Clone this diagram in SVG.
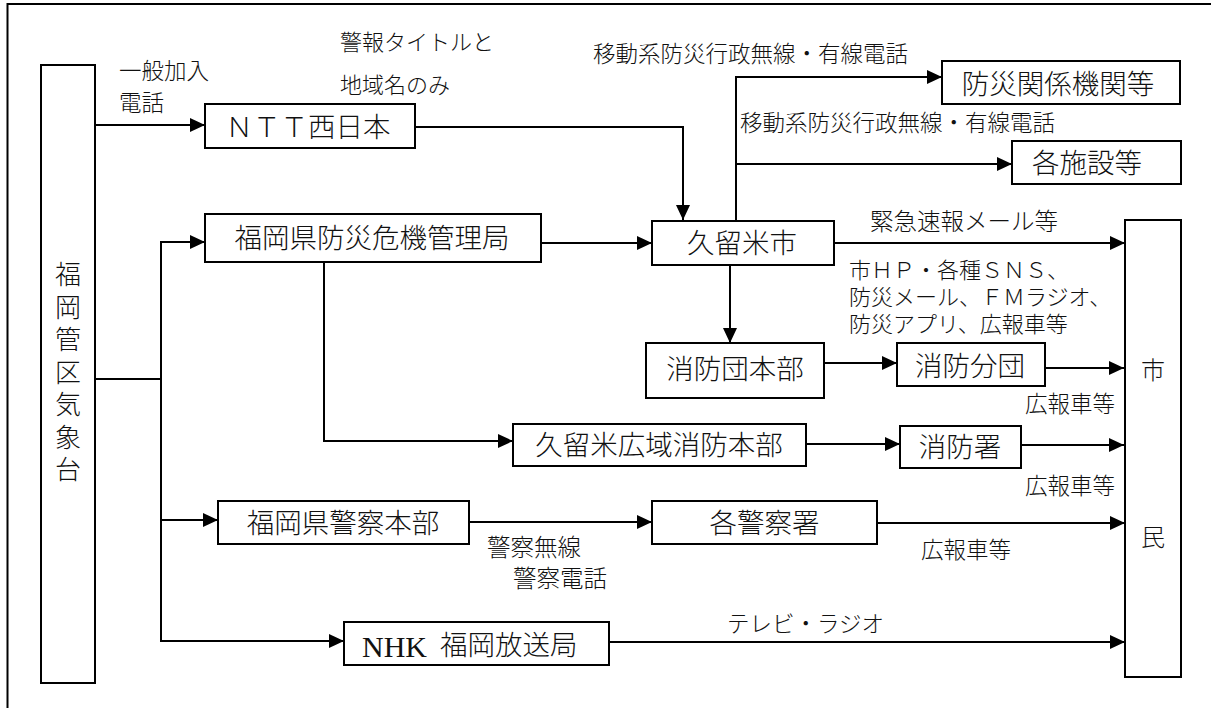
<svg xmlns="http://www.w3.org/2000/svg" width="1211" height="708" viewBox="0 0 1211 708">
<defs>
<marker id="arr" markerUnits="userSpaceOnUse" markerWidth="15" markerHeight="14" refX="15" refY="7" orient="auto">
<path d="M0,0 L15,7 L0,14 z" fill="#000"/>
</marker>
<style>
.box{fill:#fff;stroke:#000;stroke-width:2}
.c{fill:none;stroke:#000;stroke-width:2}
.a{fill:none;stroke:#000;stroke-width:2;marker-end:url(#arr)}
text{font-family:"Liberation Sans","Noto Sans CJK JP",sans-serif;font-weight:300;fill:#111;dominant-baseline:central}
.n{font-size:27.5px;text-anchor:middle}
.l{font-size:22.5px}
</style>
</defs>
<rect width="1211" height="708" fill="#fff"/>
<path class="c" d="M7.5,708 V4 H1211"/>
<g id="connectors">
<path class="a" d="M95,125 H205"/>
<path class="c" d="M95,379 H161 M161,242 V641"/>
<path class="a" d="M160,242 H205"/>
<path class="a" d="M160,520 H218"/>
<path class="a" d="M160,641 H344"/>
<path class="a" d="M415,127 H683 V220"/>
<path class="a" d="M541,243 H652"/>
<path class="a" d="M324,262 V441 H513"/>
<path class="a" d="M736,221 V77 H942"/>
<path class="a" d="M735,164 H1012"/>
<path class="a" d="M834,243 H1125"/>
<path class="a" d="M730,265 V343"/>
<path class="a" d="M824,363 H897"/>
<path class="a" d="M1045,368 H1124"/>
<path class="a" d="M806,444 H900"/>
<path class="a" d="M1021,445 H1124"/>
<path class="a" d="M469,522 H652"/>
<path class="a" d="M877,523 H1125"/>
<path class="a" d="M609,642 H1125"/>
</g>
<g id="labels">
<text class="l" x="119" y="71.5">一般加入</text>
<text class="l" x="119" y="103">電話</text>
<text class="l" x="340" y="42.5" style="font-size:22px">警報タイトルと</text>
<text class="l" x="340" y="85" style="font-size:22px">地域名のみ</text>
<text class="l" x="593" y="54">移動系防災行政無線・有線電話</text>
<text class="l" x="740" y="123">移動系防災行政無線・有線電話</text>
<text class="l" x="870" y="222" style="font-size:23.5px">緊急速報メール等</text>
<text class="l" x="849" y="270" style="font-size:22px">市ＨＰ・各種ＳＮＳ、</text>
<text class="l" x="849" y="297" style="font-size:22px">防災メール、ＦＭラジオ、</text>
<text class="l" x="849" y="324" style="font-size:22px">防災アプリ、広報車等</text>
<text class="l" x="1025" y="404">広報車等</text>
<text class="l" x="1025" y="486">広報車等</text>
<text class="l" x="921" y="550">広報車等</text>
<text class="l" x="487" y="547.5" style="font-size:23.5px">警察無線</text>
<text class="l" x="513" y="579" style="font-size:23.5px">警察電話</text>
<text class="l" x="727" y="624">テレビ・ラジオ</text>
</g>
<g id="n-jma">
<rect class="box" x="41" y="65" width="54" height="618"/>
<text class="n" style="font-size:26px"><tspan x="68" y="275">福</tspan><tspan x="68" y="307.5">岡</tspan><tspan x="68" y="340">管</tspan><tspan x="68" y="372.5">区</tspan><tspan x="68" y="405">気</tspan><tspan x="68" y="437.5">象</tspan><tspan x="68" y="470">台</tspan></text>
</g>
<g id="n-ntt">
<rect class="box" x="205" y="104" width="210" height="44"/>
<text class="n" x="308" y="127">ＮＴＴ西日本</text>
</g>
<g id="n-pref">
<rect class="box" x="205" y="214" width="336" height="48"/>
<text class="n" x="372" y="238">福岡県防災危機管理局</text>
</g>
<g id="n-police">
<rect class="box" x="218" y="501" width="251" height="43"/>
<text class="n" x="343" y="523">福岡県警察本部</text>
</g>
<g id="n-nhk">
<rect class="box" x="344" y="622" width="265" height="43"/>
<text x="362" y="657" style="font-family:'Liberation Serif',serif;font-weight:400;font-size:30px;dominant-baseline:alphabetic">NHK</text>
<text x="440" y="645" style="font-size:27.5px">福岡放送局</text>
</g>
<g id="n-kurume">
<rect class="box" x="652" y="221" width="182" height="44"/>
<text class="n" x="742" y="243">久留米市</text>
</g>
<g id="n-kfire">
<rect class="box" x="513" y="424" width="293" height="42"/>
<text class="n" x="659" y="445">久留米広域消防本部</text>
</g>
<g id="n-dan">
<rect class="box" x="646" y="343" width="178" height="55"/>
<text class="n" x="735" y="369">消防団本部</text>
</g>
<g id="n-bundan">
<rect class="box" x="897" y="343" width="148" height="43"/>
<text class="n" x="970" y="366">消防分団</text>
</g>
<g id="n-sho">
<rect class="box" x="900" y="426" width="121" height="42"/>
<text class="n" x="960" y="447">消防署</text>
</g>
<g id="n-keisatsu">
<rect class="box" x="652" y="501" width="225" height="43"/>
<text class="n" x="764.5" y="523">各警察署</text>
</g>
<g id="n-bousai">
<rect class="box" x="942" y="61" width="238" height="43"/>
<text class="n" x="1058" y="84">防災関係機関等</text>
</g>
<g id="n-shisetsu">
<rect class="box" x="1012" y="141" width="169" height="43"/>
<text class="n" x="1087" y="163">各施設等</text>
</g>
<g id="n-shimin">
<rect class="box" x="1125" y="220" width="56" height="457"/>
<text class="n" x="1153" y="370" style="font-size:24px">市</text>
<text class="n" x="1153" y="537" style="font-size:24px">民</text>
</g>
</svg>
